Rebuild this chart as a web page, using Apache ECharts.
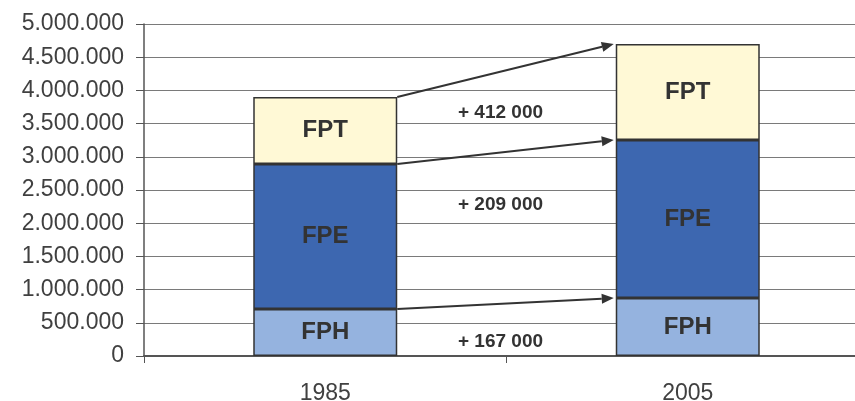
<!DOCTYPE html>
<html>
<head>
<meta charset="utf-8">
<script src="https://cdn.jsdelivr.net/npm/echarts@6/dist/echarts.min.js"></script>
<style>
html,body{margin:0;padding:0;background:#fff;overflow:hidden;}
#c{width:855px;height:401px;}
</style>
</head>
<body>
<div id="c"></div>
<script>
var categories = ['1985', '2005'];
var fphValues = [708000, 873000];
var fpeValues = [2184000, 2380000];
var fptValues = [1009000, 1446000];
var diffLabels = ['+ 412 000', '+ 209 000', '+ 167 000'];
var diffLabelY = [3660000, 2274000, 211000];
var yTicks = [0, 500000, 1000000, 1500000, 2000000, 2500000, 3000000, 3500000, 4000000, 4500000, 5000000];

var BAR_W = 144;
var FONT = '"Liberation Sans", Arial, sans-serif';

function fmt(v) {
  if (v === 0) return '0';
  return String(v).replace(/\B(?=(\d{3})+(?!\d))/g, '.');
}

var topFPH = fphValues.slice();
var topFPE = fphValues.map(function (v, i) { return v + fpeValues[i]; });
var topFPT = topFPE.map(function (v, i) { return v + fptValues[i]; });
var arrowData = [
  [0, topFPT[0], 1, topFPT[1]],
  [0, topFPE[0], 1, topFPE[1]],
  [0, topFPH[0], 1, topFPH[1]]
];
var textData = diffLabels.map(function (t, i) { return [0, diffLabelY[i], t]; });

var chart = echarts.init(document.getElementById('c'), null, {renderer: 'canvas'});

function barSeries(name, data, color) {
  return {
    name: name, type: 'bar', stack: 'total', data: data, barWidth: BAR_W,
    itemStyle: {color: color, borderColor: '#333', borderWidth: 1.5},
    label: {show: true, position: 'inside', formatter: name, fontFamily: FONT,
      fontSize: 24, fontWeight: 'bold', color: '#333'}
  };
}

chart.setOption({
  animation: false,
  grid: {left: 144, right: -14, top: 24, bottom: 45, containLabel: false, outerBoundsMode: 'none'},
  xAxis: {
    type: 'category', data: categories,
    axisLine: {lineStyle: {color: '#555', width: 2}},
    axisTick: {show: true, length: 7, lineStyle: {color: '#555'}},
    axisLabel: {fontFamily: FONT, fontSize: 23, color: '#404040', margin: 26}
  },
  yAxis: {
    type: 'value', min: yTicks[0], max: yTicks[yTicks.length - 1], interval: 500000,
    axisLine: {show: true, lineStyle: {color: '#555', width: 1.5}},
    axisTick: {show: true, length: 8, lineStyle: {color: '#555'}},
    axisLabel: {fontFamily: FONT, fontSize: 23, color: '#404040', margin: 20, formatter: fmt},
    splitLine: {lineStyle: {color: '#7a7a7a', width: 1}}
  },
  series: [
    barSeries('FPH', fphValues, '#95B3DF'),
    barSeries('FPE', fpeValues, '#3D67B0'),
    barSeries('FPT', fptValues, '#FFF9D6'),
    {
      type: 'custom', data: arrowData, encode: {x: [0, 2], y: [1, 3]}, z: 10,
      renderItem: function (params, api) {
        var p0 = api.coord([api.value(0), api.value(1)]);
        var p1 = api.coord([api.value(2), api.value(3)]);
        var x0 = p0[0] + BAR_W / 2, y0 = p0[1];
        var x1 = p1[0] - BAR_W / 2 - 2, y1 = p1[1];
        var ang = Math.atan2(y1 - y0, x1 - x0);
        var L = 12, W = 5;
        var bx = x1 - L * Math.cos(ang), by = y1 - L * Math.sin(ang);
        var nx = -Math.sin(ang), ny = Math.cos(ang);
        return {
          type: 'group',
          children: [
            {type: 'line', shape: {x1: x0, y1: y0, x2: bx, y2: by},
              style: {stroke: '#333', lineWidth: 2}},
            {type: 'polygon', shape: {points: [[x1, y1], [bx + nx * W, by + ny * W], [bx - nx * W, by - ny * W]]},
              style: {fill: '#333'}}
          ]
        };
      }
    },
    {
      type: 'custom', data: textData, encode: {x: 0, y: 1}, z: 10,
      renderItem: function (params, api) {
        var a = api.coord([0, api.value(1)]);
        var b = api.coord([1, api.value(1)]);
        return {
          type: 'text',
          style: {x: (a[0] + b[0]) / 2 - 6, y: a[1], text: diffLabels[params.dataIndex],
            align: 'center', verticalAlign: 'middle', fill: '#333',
            font: 'bold 19px ' + FONT}
        };
      }
    }
  ]
});
</script>
</body>
</html>
